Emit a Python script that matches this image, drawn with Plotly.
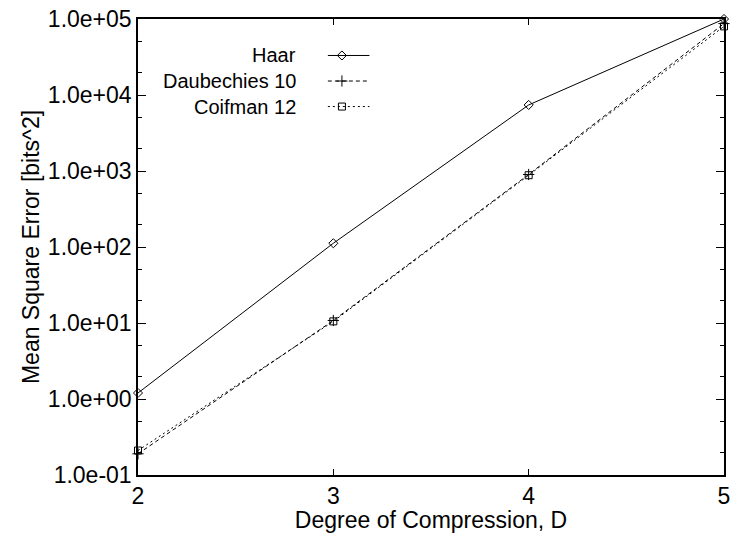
import plotly.graph_objects as go

degree = [2, 3, 4, 5]
haar = [1.2, 112, 7400, 100000]
daub10 = [0.19, 10.8, 900, 87000]
coif12 = [0.21, 10.5, 880, 80000]

ytick_vals = [0.1, 1, 10, 100, 1000, 10000, 100000]
ytick_text = ["1.0e-01", "1.0e+00", "1.0e+01", "1.0e+02", "1.0e+03", "1.0e+04", "1.0e+05"]
xtick_vals = [2, 3, 4, 5]

series = [
    ("Haar", haar, "solid", "diamond-open", 7),
    ("Daubechies 10", daub10, "4px,3px", "cross-thin-open", 8),
    ("Coifman 12", coif12, "2px,3px", "square-open", 7),
]

FONT = "Liberation Sans, Arial, sans-serif"
FS = 23
LFS = 20
fig = go.Figure()
for name, vals, dash, sym, ms in series:
    fig.add_trace(go.Scatter(
        x=degree, y=vals, mode="lines+markers", name=name,
        line=dict(color="black", width=1, dash=dash),
        marker=dict(symbol=sym, size=ms, color="black", line=dict(color="black", width=1)),
        cliponaxis=False, showlegend=False))

# manual legend (text right-aligned, sample to its right)
leg_y = [0.92, 0.864, 0.808]
for (name, vals, dash, sym, ms), ly in zip(series, leg_y):
    fig.add_trace(go.Scatter(
        x=[0.324, 0.395], y=[ly, ly], mode="lines", xaxis="x2", yaxis="y2",
        line=dict(color="black", width=1, dash=dash), showlegend=False, hoverinfo="skip"))
    fig.add_trace(go.Scatter(
        x=[0.348], y=[ly], mode="markers", xaxis="x2", yaxis="y2",
        marker=dict(symbol=sym, size=ms, color="black", line=dict(color="black", width=1)),
        showlegend=False, hoverinfo="skip"))
    fig.add_annotation(x=0.272, y=ly, xref="paper", yref="paper", text=name,
                       showarrow=False, xanchor="right", yanchor="middle", borderpad=0,
                       font=dict(family=FONT, size=LFS, color="black"))

fig.update_layout(
    width=736, height=533,
    margin=dict(l=138, r=6, t=16, b=58),
    paper_bgcolor="white", plot_bgcolor="white",
    font=dict(family=FONT, size=FS, color="black"),
    showlegend=False,
    xaxis=dict(range=[2, 5], tickvals=xtick_vals, ticks="inside", ticklen=6,
               showgrid=False, zeroline=False, showline=True, linecolor="black",
               linewidth=1.5, mirror="allticks", tickcolor="black",
               tickfont=dict(family=FONT, size=FS),
               title=dict(text="Degree of Compression, D", standoff=0,
                          font=dict(family=FONT, size=FS))),
    yaxis=dict(type="log", range=[-1, 5], tickvals=ytick_vals, ticktext=ytick_text,
               ticks="inside", ticklen=8, showgrid=False, zeroline=False, showline=True,
               linecolor="black", linewidth=1.5, mirror="allticks", tickcolor="black",
               tickfont=dict(family=FONT, size=FS),
               minor=dict(ticks="inside", ticklen=4, dtick="D2", tickcolor="black", showgrid=False),
               title=dict(text="Mean Square Error [bits^2]", standoff=2,
                          font=dict(family=FONT, size=FS))),
    xaxis2=dict(range=[0, 1], overlaying="x", visible=False, fixedrange=True),
    yaxis2=dict(range=[0, 1], overlaying="y", visible=False, fixedrange=True),
)

fig.write_html("out.html")
